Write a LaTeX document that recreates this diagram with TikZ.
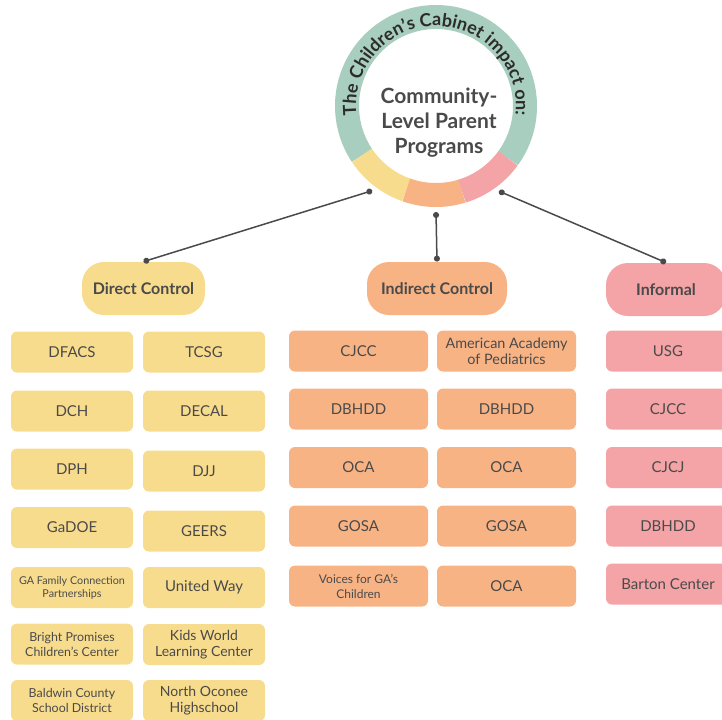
\documentclass[tikz,border=0pt]{standalone}
\usepackage{fontspec}
\setmainfont{Lato}
\usetikzlibrary{arrows.meta,decorations.text,calc}
\definecolor{ringgreen}{HTML}{A8CEBF}
\definecolor{dcyellow}{HTML}{F8DC8D}
\definecolor{icorange}{HTML}{F8B385}
\definecolor{infpink}{HTML}{F4A3A6}
\definecolor{inkgray}{HTML}{4A4A4A}
\definecolor{wiregray}{HTML}{555555}

\begin{document}
\begin{tikzpicture}[x=0.5pt, y=0.5pt,
  box/.style={rounded corners=3pt, minimum height=20.5pt, inner sep=1pt, align=center,
    text=inkgray, font=\fontsize{7.5}{8.5}\selectfont},
  dbox/.style={box, fill=dcyellow, minimum width=61pt},
  ibox/.style={box, fill=icorange, minimum width=69.5pt},
  pbox/.style={box, fill=infpink, minimum width=62pt},
  head/.style={rounded corners=11pt, minimum height=26.5pt, text=inkgray,
    font=\bfseries\fontsize{8}{9}\selectfont},
  link/.style={draw=wiregray, line width=0.6pt},
  stem/.style={draw=inkgray, line width=0.75pt, {Circle[length=3pt]}-{Circle[length=3pt]}}]
  \useasboundingbox (0,0) rectangle (722,-719);
  % ring
  \coordinate (ring) at (436,-106);
  \draw[ringgreen, line width=12pt] (ring) ++(324:89) arc[start angle=324, end angle=573.7, radius=89];
  \draw[dcyellow, line width=12pt] (ring) ++(213.7:89) arc[start angle=213.7, end angle=250.5, radius=89];
  \draw[icorange, line width=12pt] (ring) ++(250.5:89) arc[start angle=250.5, end angle=287, radius=89];
  \draw[infpink, line width=12pt] (ring) ++(287:89) arc[start angle=287, end angle=324, radius=89];
  \path[decorate, decoration={text along path, text align=center, text color=inkgray!60!black,
      text={|\bfseries\fontsize{9}{9}\selectfont|The Children's Cabinet impact on:}}]
    (ring) ++(187:80) arc[start angle=187, end angle=-7, radius=80];
  \node[font=\bfseries\fontsize{10.5}{12.5}\selectfont, text=inkgray, align=center] (title) at (439,-123)
    {Community-\\Level Parent\\Programs};

  % headers
  \node[head, fill=dcyellow, minimum width=61.5pt] (direct) at (143.5,-288.5) {Direct Control};
  \node[head, fill=icorange, minimum width=70pt] (indirect) at (437,-288.5) {Indirect Control};
  \node[head, fill=infpink, minimum width=60pt] (informal) at (666,-289.5) {Informal};
  \coordinate (ring-d) at ($(ring)+(233:106)$);
  \coordinate (ring-i) at ($(ring)+(270:106)$);
  \coordinate (ring-f) at ($(ring)+(306.5:106)$);
  \draw[stem] (ring-d) -- (direct.north);
  \draw[stem] (ring-i) -- (indirect.north);
  \draw[stem] (ring-f) -- (informal.north);

  % direct control
  \node[dbox] (d1) at (72,-352) {DFACS};
  \node[dbox] (d2) at (72,-411) {DCH};
  \node[dbox] (d3) at (72,-469) {DPH};
  \node[dbox] (d4) at (72,-527.5) {GaDOE};
  \node[dbox, font=\fontsize{5.4}{6.5}\selectfont] (d5) at (72,-587.5) {GA Family Connection\\Partnerships};
  \node[dbox, font=\fontsize{6.2}{7.5}\selectfont] (d6) at (72,-644) {Bright Promises\\Children's Center};
  \node[dbox, font=\fontsize{6.2}{7.5}\selectfont] (d7) at (72,-700.5) {Baldwin County\\School District};
  \node[dbox] (t1) at (204,-352) {TCSG};
  \node[dbox] (t2) at (204,-411) {DECAL};
  \node[dbox] (t3) at (204,-471) {DJJ};
  \node[dbox] (t4) at (204,-531) {GEERS};
  \node[dbox] (t5) at (204,-587.5) {United Way};
  \node[dbox, font=\fontsize{7}{8.2}\selectfont] (t6) at (204,-644.5) {Kids World\\Learning Center};
  \node[dbox, font=\fontsize{7}{8.2}\selectfont] (t7) at (204,-700.5) {North Oconee\\Highschool};

  % indirect control
  \node[ibox] (c1) at (358.5,-351) {CJCC};
  \node[ibox] (c2) at (358.5,-409) {DBHDD};
  \node[ibox] (c3) at (358.5,-467.5) {OCA};
  \node[ibox] (c4) at (358.5,-526) {GOSA};
  \node[ibox, font=\fontsize{6}{7.5}\selectfont] (c5) at (358.5,-586) {Voices for GA's\\Children};
  \node[ibox, font=\fontsize{7.2}{8.2}\selectfont] (a1) at (506.5,-351) {American Academy\\of Pediatrics};
  \node[ibox] (a2) at (506.5,-409) {DBHDD};
  \node[ibox] (a3) at (506.5,-467.5) {OCA};
  \node[ibox] (a4) at (506.5,-526) {GOSA};
  \node[ibox] (a5) at (506.5,-586) {OCA};

  % informal
  \node[pbox] (f1) at (668,-351) {USG};
  \node[pbox] (f2) at (668,-409) {CJCC};
  \node[pbox] (f3) at (668,-467.5) {CJCJ};
  \node[pbox] (f4) at (668,-526) {DBHDD};
  \node[pbox] (f5) at (668,-584) {Barton Center};

  \foreach \col/\last in {d/4, t/4, c/4, a/4, f/3}
    \foreach \i [evaluate=\i as \j using int(\i+1)] in {1,...,\last}
      \draw[link] (\col\i) -- (\col\j);
\end{tikzpicture}
\end{document}
